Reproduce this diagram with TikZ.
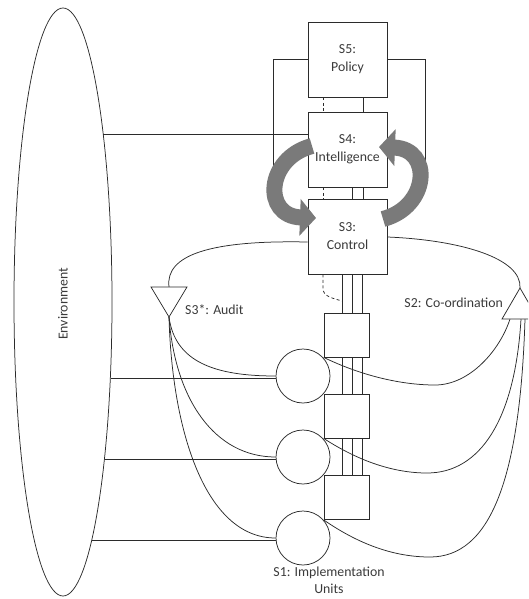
\documentclass[tikz,border=0pt]{standalone}
\usepackage{fontspec}
\setmainfont{Carlito}
\usetikzlibrary{shapes.geometric,arrows.meta}
\definecolor{ink}{HTML}{2B2B2B}
\definecolor{txt}{HTML}{3A3A3A}
\definecolor{swirl}{HTML}{7A7A7A}
\begin{document}
\begin{tikzpicture}[x=1pt,y=-1pt,
  ln/.style={draw=ink,line width=0.75pt},
  dashln/.style={ln,dash pattern=on 3pt off 2.5pt},
  sysbox/.style={rectangle,draw=ink,line width=0.75pt,fill=white,minimum width=79pt,minimum height=75pt,inner sep=0pt,align=center,text=txt,font=\fontsize{13.8}{18}\selectfont},
  unitbox/.style={rectangle,draw=ink,line width=0.75pt,fill=white,minimum width=45pt,minimum height=44pt,inner sep=0pt},
  opcircle/.style={circle,draw=ink,line width=0.75pt,fill=white,minimum size=54pt,inner sep=0pt},
  lbl/.style={text=txt,font=\fontsize{13.8}{17}\selectfont,inner sep=0pt,align=center},
  swirlarrow/.style={draw=swirl,line width=16pt,-{Triangle[length=16pt,width=36pt]}},
  tri/.style={ln,fill=white,line join=miter}
]
\useasboundingbox (0,0) rectangle (528,599);
\clip (0,0) rectangle (528,599);

% environment
\node[ellipse,draw=ink,line width=0.75pt,minimum width=98pt,minimum height=588pt,inner sep=0pt] (env) at (63,302) {};
\node[lbl,rotate=90] (envtext) at (63,304) {Environment};

% management boxes
\node[sysbox] (s5) at (347.5,59.5) {S5:\\Policy};
\node[sysbox] (s4) at (347.5,149.5) {S4:\\Intelligence};
\node[sysbox] (s3) at (347.5,236.5) {S3:\\Control};

% operational units
\node[unitbox] (u1) at (346.5,335) {};
\node[unitbox] (u2) at (346.5,416) {};
\node[unitbox] (u3) at (346.5,497.5) {};
\node[opcircle] (c1) at (303,376) {};
\node[opcircle] (c2) at (303,457) {};
\node[opcircle] (c3) at (303,538) {};

% helper coordinates
\coordinate (lp) at (273,190);
\coordinate (rp) at (425,188);
\coordinate (e4) at (103,134);
\coordinate (e1) at (110.5,378);
\coordinate (e2) at (104.5,459);
\coordinate (e3) at (92,540);
\coordinate (dj) at (342,301);
\coordinate (a3) at (169,317);
\coordinate (a3l) at (151,287);
\coordinate (a3r) at (187,287);
\coordinate (a3t) at (169,287);
\coordinate (s2a) at (520,288);
\coordinate (s2l) at (502,319);
\coordinate (s2r) at (538,319);
\coordinate (b1) at (510,319);
\coordinate (b2) at (521,319);
\coordinate (b3) at (525,319);

% S5 loops (running under the homeostat arrows)
\draw[ln] (s5.west) -| (lp);
\draw[ln] (s5.east) -| (rp);

% environment links
\draw[ln] (e4) -- (e4 -| s4.west);
\draw[ln] (e1) -- (e1 -| c1.west);
\draw[ln] (e2) -- (e2 -| c2.west);
\draw[ln] (e3) -- (e3 -| c3.west);

% vertical channels
\draw[dashln] ([xshift=-24.5pt]s5.south) -- ([xshift=-24.5pt]s4.north);
\draw[ln] ([xshift=15.5pt]s5.south) -- ([xshift=15.5pt]s4.north);
\draw[dashln] ([xshift=-24.5pt]s4.south) -- ([xshift=-24.5pt]s3.north);
\draw[ln] ([xshift=4.5pt]s4.south) -- ([xshift=4.5pt]s3.north);
\draw[ln] ([xshift=15.5pt]s4.south) -- ([xshift=15.5pt]s3.north);
\foreach \dx in {-4.5,5.5,15.5} {
  \draw[ln] ([xshift=\dx pt]u1.north) -- ([xshift=\dx pt]u1.north |- s3.south);
  \draw[ln] ([xshift=\dx pt]u2.north) -- ([xshift=\dx pt]u1.south);
  \draw[ln] ([xshift=\dx pt]u3.north) -- ([xshift=\dx pt]u2.south);
}
\draw[dashln] ([xshift=-24.5pt]s3.south) -- ++(0,14) .. controls +(0,8) and +(-10,-3) .. (dj);

% S3 loop to S3* and S2
\draw[ln] ([yshift=-5.5pt]s3.west) .. controls (210,240) and (165,255) .. (a3t);
\draw[ln] ([yshift=-0.5pt]s3.east) .. controls (460,240) and (522,258) .. (s2a);

% S3* audit channels
\draw[ln] (a3) .. controls (175,362) and (215,376) .. (c1.west);
\draw[ln] (a3) .. controls (175,400) and (215,457) .. (c2.west);
\draw[ln] (a3) .. controls (172,430) and (205,538) .. (c3.west);

% S2 coordination channels
\draw[ln] (u1.south west) .. controls (360,375) and (400,385) .. (435,385) .. controls (470,385) and (500,350) .. (b1);
\draw[ln] (u2.south west) .. controls (360,462) and (395,473) .. (427,473) .. controls (480,473) and (515,420) .. (b2);
\draw[ln] (u3.south west) .. controls (360,545) and (395,557) .. (430,557) .. controls (490,557) and (520,480) .. (b3);

% triangles
\draw[tri] (a3l) -- (a3r) -- (a3) -- cycle;
\draw[tri] (s2a) -- (s2r) -- (s2l) -- cycle;

% labels
\node[lbl,anchor=west] (l3s) at (185,310) {S3*: Audit};
\node[lbl,anchor=east] (l2) at (503,303) {S2: Co-ordination};
\node[lbl] (l1) at (329,580) {S1: Implementation\\Units};

% S3-S4 homeostat arrows
\draw[swirlarrow] (312,146) .. controls (266,158) and (262,216) .. (316,218);
\draw[swirlarrow] (383,219) .. controls (429,207) and (433,149) .. (379,147);
\end{tikzpicture}
\end{document}
